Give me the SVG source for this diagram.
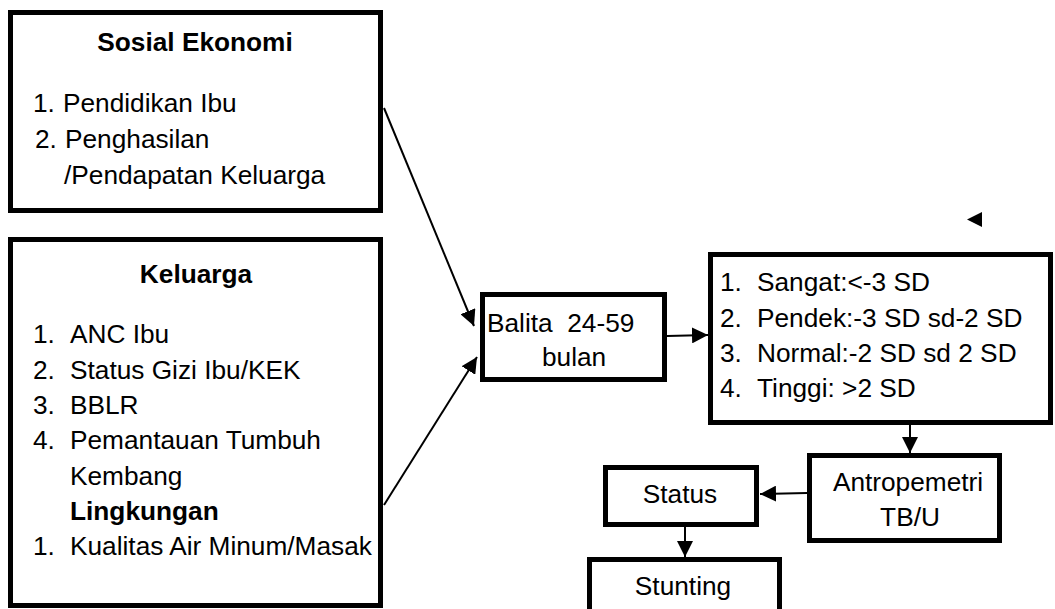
<svg xmlns="http://www.w3.org/2000/svg" width="1055" height="609" viewBox="0 0 1055 609">
<style>
.box{fill:#fff;stroke:#000;stroke-width:5}
.t{font-family:"Liberation Sans",Arial,sans-serif;font-size:25px;fill:#000}
.b{font-weight:bold}
.m{text-anchor:middle}
.c{stroke:#000;stroke-width:2;fill:none}
</style>
<defs>
<marker id="ah" markerWidth="16" markerHeight="16" refX="16" refY="8" orient="auto" markerUnits="userSpaceOnUse"><path d="M0,0 L16,8 L0,16 z" fill="#000"/></marker>
</defs>
<rect width="1055" height="609" fill="#fff"/>
<g id="sosial-ekonomi">
<rect class="box" x="10.5" y="12.5" width="370" height="198"/>
<text class="t b m" transform="translate(195 51) scale(1.05 1)">Sosial Ekonomi</text>
<text class="t" transform="translate(33 112) scale(1.05 1)">1.</text>
<text class="t" transform="translate(63 112) scale(1.05 1)">Pendidikan Ibu</text>
<text class="t" transform="translate(35 148) scale(1.05 1)">2.</text>
<text class="t" transform="translate(65 148) scale(1.05 1)">Penghasilan</text>
<text class="t" transform="translate(64 184) scale(1.05 1)">/Pendapatan Keluarga</text>
</g>
<g id="keluarga">
<rect class="box" x="10.5" y="239.5" width="370" height="366"/>
<text class="t b m" transform="translate(196 283) scale(1.05 1)">Keluarga</text>
<text class="t" transform="translate(33 343) scale(1.05 1)">1.</text>
<text class="t" transform="translate(70 343) scale(1.05 1)">ANC Ibu</text>
<text class="t" transform="translate(33 378.5) scale(1.05 1)">2.</text>
<text class="t" transform="translate(70 378.5) scale(1.05 1)">Status Gizi Ibu/KEK</text>
<text class="t" transform="translate(33 414) scale(1.05 1)">3.</text>
<text class="t" transform="translate(70 414) scale(1.05 1)">BBLR</text>
<text class="t" transform="translate(33 449) scale(1.05 1)">4.</text>
<text class="t" transform="translate(70 449) scale(1.05 1)">Pemantauan Tumbuh</text>
<text class="t" transform="translate(70 484.5) scale(1.05 1)">Kembang</text>
<text class="t b" transform="translate(70 520) scale(1.05 1)">Lingkungan</text>
<text class="t" transform="translate(33 555) scale(1.05 1)">1.</text>
<text class="t" transform="translate(70 555) scale(1.05 1)">Kualitas Air Minum/Masak</text>
</g>
<g id="balita">
<rect class="box" x="482.5" y="294.5" width="182" height="85"/>
<text class="t" xml:space="preserve" style="white-space:pre" transform="translate(487 332) scale(1.05 1)">Balita  24-59</text>
<text class="t" transform="translate(542 366) scale(1.05 1)">bulan</text>
</g>
<g id="kategori">
<rect class="box" x="710.5" y="254.5" width="340" height="168"/>
<text class="t" transform="translate(720 291) scale(1.05 1)">1.</text>
<text class="t" transform="translate(757 291) scale(1.05 1)">Sangat:&lt;-3 SD</text>
<text class="t" transform="translate(720 327) scale(1.05 1)">2.</text>
<text class="t" transform="translate(757 327) scale(1.05 1)">Pendek:-3 SD sd-2 SD</text>
<text class="t" transform="translate(720 362) scale(1.05 1)">3.</text>
<text class="t" transform="translate(757 362) scale(1.05 1)">Normal:-2 SD sd 2 SD</text>
<text class="t" transform="translate(720 397) scale(1.05 1)">4.</text>
<text class="t" transform="translate(757 397) scale(1.05 1)">Tinggi: &gt;2 SD</text>
</g>
<g id="antropometri">
<rect class="box" x="809.5" y="455.5" width="190" height="85"/>
<text class="t m" transform="translate(908 491) scale(1.05 1)">Antropemetri</text>
<text class="t m" transform="translate(910 526) scale(1.05 1)">TB/U</text>
</g>
<g id="status">
<rect class="box" x="605.5" y="467.5" width="151" height="57"/>
<text class="t m" transform="translate(680 503) scale(1.05 1)">Status</text>
</g>
<g id="stunting">
<rect class="box" x="589.5" y="559.5" width="190" height="60"/>
<text class="t m" transform="translate(683 595) scale(1.05 1)">Stunting</text>
</g>
<g id="connectors">
<line class="c" x1="384" y1="108" x2="474" y2="326" marker-end="url(#ah)"/>
<line class="c" x1="384" y1="505" x2="477" y2="357" marker-end="url(#ah)"/>
<line class="c" x1="667" y1="336" x2="708" y2="335" marker-end="url(#ah)"/>
<line class="c" x1="910" y1="425" x2="910" y2="453" marker-end="url(#ah)"/>
<line class="c" x1="807" y1="493" x2="760" y2="494" marker-end="url(#ah)"/>
<line class="c" x1="685" y1="527" x2="685" y2="557" marker-end="url(#ah)"/>
<polygon points="967,219.5 982,212 982,227" fill="#000"/>
</g>
</svg>
